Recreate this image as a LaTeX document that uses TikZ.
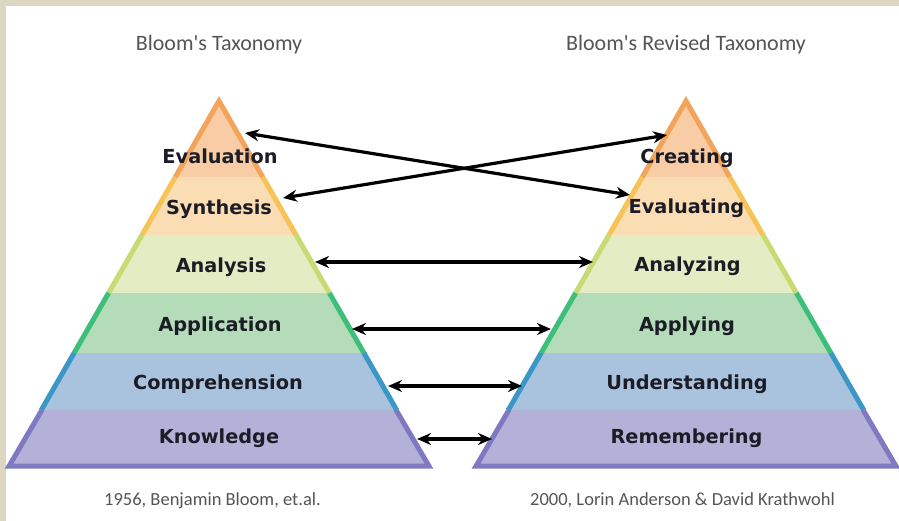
\documentclass[tikz,border=0pt]{standalone}
\usepackage{fontspec}
\setmainfont{DejaVu Sans}
\newfontfamily\capfont{Carlito}
\usetikzlibrary{arrows.meta,calc}
\definecolor{bg}{HTML}{DDD7C1}
\definecolor{fa}{HTML}{F8CDA6}
\definecolor{fb}{HTML}{FADDB3}
\definecolor{fc}{HTML}{E4ECC4}
\definecolor{fd}{HTML}{B4DCB8}
\definecolor{fe}{HTML}{A9C3DF}
\definecolor{ff}{HTML}{B4B1D9}
\definecolor{sa}{HTML}{F3A35A}
\definecolor{sb}{HTML}{F5C356}
\definecolor{sc}{HTML}{C8DA72}
\definecolor{sd}{HTML}{3CBF78}
\definecolor{se}{HTML}{3B98C6}
\definecolor{sf}{HTML}{7E79C1}
\definecolor{txt}{HTML}{1C1C26}
\definecolor{cap}{HTML}{555555}
\newcommand\drawpyramid[1]{%
  \foreach \ya/\yb/\fcol/\scol in {101/177/fa/sa,177/235/fb/sb,235/293/fc/sc,293/353/fd/sd,353/410/fe/se,410/466/ff/sf}{%
    \pgfmathsetmacro\ha{0.575*(\ya-101)}%
    \pgfmathsetmacro\hb{0.575*(\yb-101)}%
    \fill[\fcol] (#1-\ha,\ya) -- (#1+\ha,\ya) -- (#1+\hb,\yb) -- (#1-\hb,\yb) -- cycle;
  }%
  \foreach \ya/\yb/\scol in {177/235/sb,235/293/sc,293/353/sd,353/410/se}{%
    \pgfmathsetmacro\ha{0.575*(\ya-101)}%
    \pgfmathsetmacro\hb{0.575*(\yb-101)}%
    \draw[edge,\scol] (#1-\ha,\ya) -- (#1-\hb,\yb);
    \draw[edge,\scol] (#1+\ha,\ya) -- (#1+\hb,\yb);
  }%
  \draw[edge,sa] (#1-43.7,177) -- (#1,101) -- (#1+43.7,177);
  \draw[edge,sf] (#1-177.1,410) -- (#1-209.9,466) -- (#1+209.9,466) -- (#1+177.1,410);
}
\begin{document}
\begin{tikzpicture}[x=1pt,y=-1pt,
  edge/.style={line width=5pt,line join=miter,line cap=butt},
  lab/.style={anchor=base,font=\fontsize{19.3}{22}\selectfont\bfseries,text=txt,inner sep=0pt},
  ttl/.style={anchor=base,font=\capfont\fontsize{22}{26}\selectfont,text=cap,inner sep=0pt},
  foot/.style={anchor=base,font=\capfont\fontsize{18.5}{22}\selectfont,text=cap,inner sep=0pt},
  conn/.style={line width=3.2pt,{Stealth[length=14pt,width=12pt]}-{Stealth[length=14pt,width=12pt]}}]
\useasboundingbox (0,0) rectangle (899,521);
\fill[white] (0,0) rectangle (899,521);
\fill[bg] (0,0) rectangle (899,6);
\fill[bg] (0,0) rectangle (6,521);

\drawpyramid{219}
\drawpyramid{686}

% titles
\node[ttl] (tL) at (219,51) {Bloom's Taxonomy};
\node[ttl] (tR) at (686,51) {Bloom's Revised Taxonomy};
\node[foot] (fL) at (212.5,505) {1956, Benjamin Bloom, et.al.};
\node[foot] (fR) at (682.5,505) {2000, Lorin Anderson \& David Krathwohl};

% left levels
\node[lab] (k1) at (220,163.5) {Evaluation};
\node[lab] (k2) at (219,214.5) {Synthesis};
\node[lab] (k3) at (221,272.5) {Analysis};
\node[lab] (k4) at (220,331.5) {Application};
\node[lab] (k5) at (218,389.5) {Comprehension};
\node[lab] (k6) at (219,443.5) {Knowledge};
% right levels
\node[lab] (r1) at (687,163.5) {Creating};
\node[lab] (r2) at (686.5,213.5) {Evaluating};
\node[lab] (r3) at (687.5,271.5) {Analyzing};
\node[lab] (r4) at (687,331.5) {Applying};
\node[lab] (r5) at (687,389.5) {Understanding};
\node[lab] (r6) at (686.5,443.5) {Remembering};

% connector ends
\coordinate (a1L) at (245,133);
\coordinate (a1R) at (630,195);
\coordinate (a2L) at (283,198);
\coordinate (a2R) at (667,135);
\coordinate (a3L) at (315,262);
\coordinate (a3R) at (593,262);
\coordinate (a4L) at (352,329);
\coordinate (a4R) at (551,329);
\coordinate (a5L) at (388,386);
\coordinate (a5R) at (522,386);
\coordinate (a6L) at (417,439);
\coordinate (a6R) at (492,439);

\draw[conn] (a1L) -- (a1R);
\draw[conn] (a2L) -- (a2R);
\draw[conn] (a3L) -- (a3R);
\draw[conn] (a4L) -- (a4R);
\draw[conn] (a5L) -- (a5R);
\draw[conn] (a6L) -- (a6R);
\end{tikzpicture}
\end{document}
